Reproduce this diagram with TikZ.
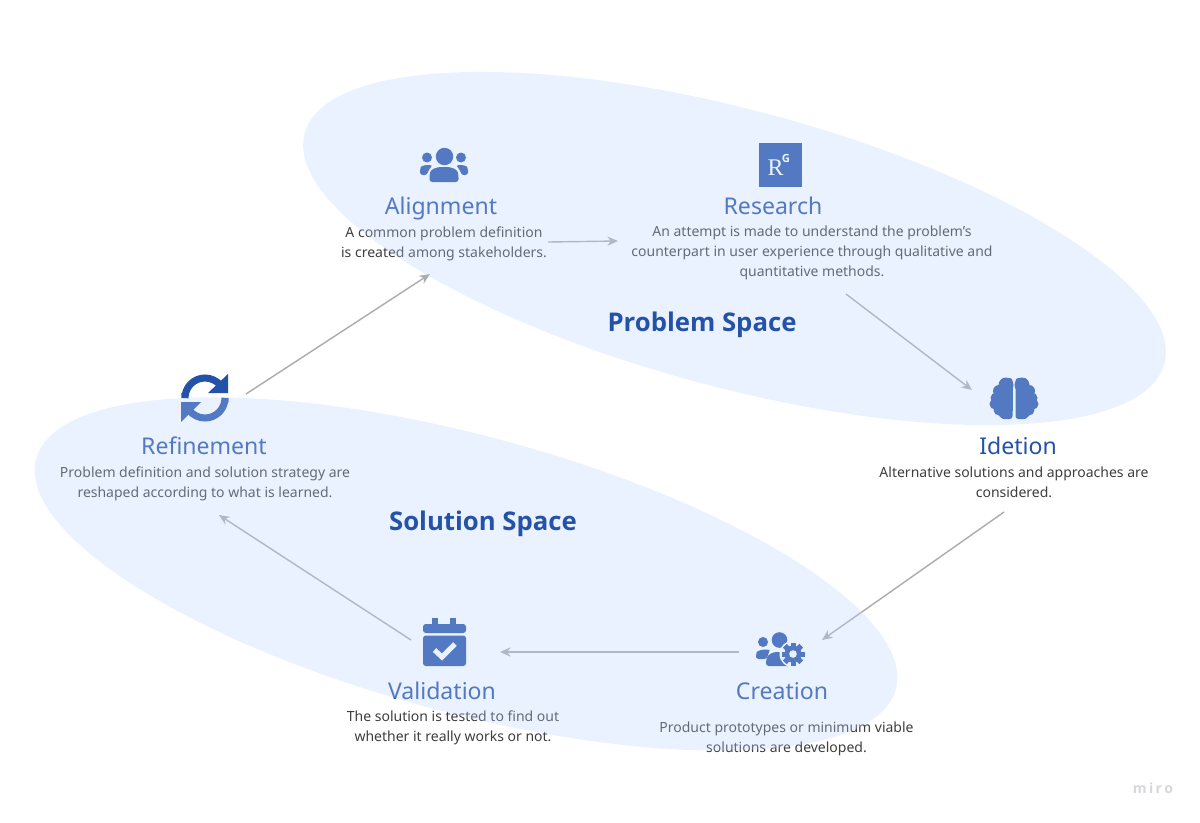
\documentclass[tikz,border=0pt]{standalone}
\usepackage{fontspec}
\usetikzlibrary{arrows.meta}
\setmainfont{Noto Sans}
\newfontfamily\rgfont{Liberation Serif}
\newfontfamily\boldsans{Open Sans}

\definecolor{spacefill}{RGB}{190, 212, 255}
\definecolor{stepblue}{RGB}{36, 82, 168}
\definecolor{arrowgray}{RGB}{172, 172, 172}
\definecolor{bodygray}{RGB}{62, 62, 62}
\definecolor{mirogray}{RGB}{214, 214, 224}

\tikzset{
	space/.style = {fill = spacefill, opacity = 0.3},
	icon/.style = {fill = stepblue},
	steptitle/.style = {text = stepblue, anchor = base, font = \fontsize{16.4}{20}\selectfont},
	stepbody/.style = {text = bodygray, align = center, font = \fontsize{9.95}{14.25}\selectfont},
	spacetitle/.style = {text = stepblue, anchor = base, font = \fontsize{18.3}{22}\selectfont\boldsans\bfseries},
	flow/.style = {draw = arrowgray, line width = 1pt, -{Stealth[length=7.5pt, width=6.5pt]}}
}

\begin{document}
\begin{tikzpicture}[x = 0.025 cm, y = -0.025 cm]
	\fill[white] (0, 0) rectangle (1200, 822);
	
	\coordinate (refinement out) at (246, 394);
	\coordinate (alignment in) at (430, 274);
	\coordinate (alignment out) at (548, 242);
	\coordinate (research in) at (618, 241);
	\coordinate (research out) at (846, 294);
	\coordinate (idetion in) at (972, 390);
	\coordinate (idetion out) at (1004, 512);
	\coordinate (creation in) at (822, 640);
	\coordinate (creation out) at (739, 652);
	\coordinate (validation in) at (500, 652);
	\coordinate (validation out) at (411, 640);
	\coordinate (refinement in) at (219, 515);
	
	\draw[flow] (refinement out) -- (alignment in);
	\draw[flow] (alignment out) -- (research in);
	\draw[flow] (research out) -- (idetion in);
	\draw[flow] (idetion out) -- (creation in);
	\draw[flow] (creation out) -- (validation in);
	\draw[flow] (validation out) -- (refinement in);
	
	\node[steptitle] (alignment) at (441, 214) {Alignment};
	\node[steptitle] (research) at (773, 214) {Research};
	\node[steptitle] (idetion) at (1018, 454) {Idetion};
	\node[steptitle] (creation) at (782, 699) {Creation};
	\node[steptitle] (validation) at (442, 699) {Validation};
	\node[steptitle] (refinement) at (204, 454) {Refinement};
	
	\node[stepbody] (alignment text) at (444, 244) {A common problem definition\\is created among stakeholders.};
	\node[stepbody] (research text) at (812, 253) {An attempt is made to understand the problem's\\counterpart in user experience through qualitative and\\quantitative methods.};
	\node[stepbody] (idetion text) at (1014, 482) {Alternative solutions and approaches are\\considered.};
	\node[stepbody] (creation text) at (786.5, 739) {Product prototypes or minimum viable\\solutions are developed.};
	\node[stepbody] (validation text) at (453, 728) {The solution is tested to find out\\whether it really works or not.};
	\node[stepbody] (refinement text) at (205, 484) {Problem definition and solution strategy are\\reshaped according to what is learned.};
	
	% alignment icon
	\fill[icon] (444.5, 156.5) circle (8.7);
	\fill[icon] (427, 157.5) circle (5);
	\fill[icon] (461, 157.5) circle (5);
	\fill[icon, rounded corners = 2] (429.5, 182) -- (429.5, 175) .. controls (431, 169) and (437, 167) .. (444, 167) .. controls (451, 167) and (457, 169) .. (458.5, 175) -- (458.5, 182) -- cycle;
	\fill[icon, rounded corners = 2] (420, 175) -- (420, 170) .. controls (421, 166) and (426, 164.5) .. (433, 165.5) .. controls (430, 168) and (428, 171) .. (427.5, 175) -- cycle;
	\fill[icon, rounded corners = 2] (468, 175) -- (468, 170) .. controls (467, 166) and (462, 164.5) .. (455.5, 165.5) .. controls (458.5, 168) and (460.5, 171) .. (461, 175) -- cycle;
	
	% research icon
	\fill[icon] (759, 143) rectangle (802, 187);
	\node[text = white, font = \fontsize{17}{17}\selectfont\rgfont] (research r) at (775.5, 168) {R};
	\node[text = white, font = \fontsize{8}{8}\selectfont\boldsans\bfseries] (research g) at (786, 158.5) {G};
	
	% refinement icon
	\draw[stepblue, line width = 5 pt] (185, 393) -- (185, 398) arc (180:320:20);
	\fill[stepblue] (228, 374) -- (228, 393) -- (208, 393) -- cycle;
	\draw[stepblue, line width = 5 pt] (225, 402) -- (225, 398) arc (0:140:20);
	\fill[stepblue] (181, 402) -- (201, 402) -- (181, 422) -- cycle;
	
	% idetion icon
	\foreach \s in {-1, 1} {
		\fill[icon, rounded corners = 2] (1014 + \s * 1.5, 378) rectangle (1014 + \s * 13, 419);
		\fill[icon] (1014 + \s * 1.5, 386) rectangle (1014 + \s * 18, 411);
		\fill[icon] (1014 + \s * 8, 385) circle (7.5);
		\fill[icon] (1014 + \s * 15, 391) circle (6);
		\fill[icon] (1014 + \s * 18, 398) circle (5.5);
		\fill[icon] (1014 + \s * 19, 404) circle (5.5);
		\fill[icon] (1014 + \s * 15, 410) circle (5.5);
		\fill[icon] (1014 + \s * 9, 412) circle (7);
	}
	
	% creation icon
	\fill[icon] (779.5, 640) circle (7.8);
	\fill[icon] (763, 642) circle (5);
	\fill[icon, rounded corners = 2] (756, 659) -- (756, 655) .. controls (757, 651) and (762, 649) .. (771, 650) .. controls (769, 652) and (768, 655) .. (767, 659) -- cycle;
	\fill[icon, rounded corners = 2] (766, 666) -- (766, 661) .. controls (768, 654) and (773, 652) .. (780, 652) .. controls (787, 652) and (790, 654) .. (792, 661) -- (792, 666) -- cycle;
	\fill[white] (793, 654) circle (13.5);
	\foreach \a in {0, 45, ..., 315}
		\fill[icon, rotate around = {\a:(793, 654)}] (790.5, 642.5) rectangle (795.5, 665.5);
	\fill[icon] (793, 654) circle (8.5);
	\fill[white] (793, 654) circle (3.8);
	
	% validation icon
	\fill[icon] (432, 618) rectangle (438, 626);
	\fill[icon] (450, 618) rectangle (456, 626);
	\fill[icon, rounded corners = 2] (423, 633) -- (423, 624) -- (466, 624) -- (466, 633) -- cycle;
	\fill[icon, rounded corners = 2] (423, 635.5) -- (423, 666) -- (466, 666) -- (466, 635.5) -- cycle;
	\draw[white, line width = 3.6 pt] (434.5, 650) -- (442, 657) -- (455, 644);
	
	\fill[space, rotate around = {-15:(734.5, 248.5)}] (734.5, 248.5) ellipse (445 and 138.6);
	\fill[space, rotate around = {-15:(466, 574)}] (466, 574) ellipse (445 and 138.6);
	
	\node[spacetitle] (problem space) at (702, 331) {Problem Space};
	\node[spacetitle] (solution space) at (483, 530) {Solution Space};
	
	\node[text = mirogray, font = \fontsize{10}{10}\selectfont\boldsans\bfseries] (miro) at (1153, 788) {m\,i\,r\,o};
\end{tikzpicture}
\end{document}
